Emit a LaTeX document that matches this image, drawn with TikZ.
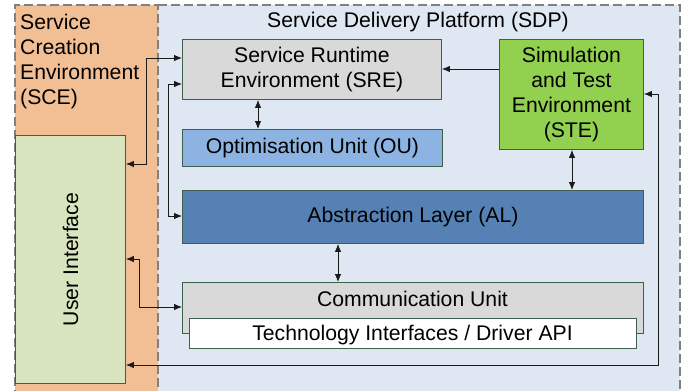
\documentclass[tikz,border=0pt]{standalone}
\usepackage{fontspec}
\setmainfont{Liberation Sans}
\usetikzlibrary{arrows.meta}
\definecolor{sceor}{HTML}{F2BF95}
\definecolor{sdpbl}{HTML}{DFE8F2}
\definecolor{uigreen}{HTML}{D7E4BD}
\definecolor{sregray}{HTML}{D9D9D9}
\definecolor{oublue}{HTML}{8DB3E2}
\definecolor{stegreen}{HTML}{92D050}
\definecolor{alblue}{HTML}{5581B4}
\definecolor{boxline}{HTML}{3E5F4E}
\definecolor{dashgray}{HTML}{808080}
\definecolor{arrline}{HTML}{1A1A1A}
\tikzset{
  blk/.style={draw=boxline, line width=0.9pt, inner sep=0pt, align=center, anchor=north west},
  regionborder/.style={draw=dashgray, line width=1.1pt, dash pattern=on 9pt off 4pt},
  conn/.style={draw=arrline, line width=0.8pt, {Latex[length=8pt,width=6.5pt]}-{Latex[length=8pt,width=6.5pt]}},
  conn1/.style={draw=arrline, line width=0.8pt, -{Latex[length=8pt,width=6.5pt]}},
  lbl/.style={inner sep=0pt}
}
\begin{document}
\begin{tikzpicture}[x=1pt,y=-1pt,font=\fontsize{21.2}{25}\selectfont]
\useasboundingbox (0,0) rectangle (686,391);
\clip (0,0) rectangle (686,391);
\fill[white] (0,0) rectangle (686,391);
% regions
\fill[sceor] (15,5) rectangle (158,400);
\fill[sdpbl] (158,5) rectangle (680,400);
\draw[regionborder] (158,400) -- (158,5) -- (15,5) -- (15,400);
\draw[regionborder] (158,5) -- (680,5) -- (680,400);
\node[lbl, anchor=west, align=left] (scelbl) at (20,62) {Service\\Creation\\Environment\\(SCE)};
\node[lbl] (sdplbl) at (418,22) {Service Delivery Platform (SDP)};
% blocks
\node[blk, fill=uigreen, minimum width=110pt, minimum height=248pt] (ui) at (15,135) {};
\node[lbl, rotate=90] (uilbl) at (ui.center) {User Interface};
\node[blk, fill=sregray, minimum width=259pt, minimum height=60pt] (sre) at (182,39) {Service Runtime\\Environment (SRE)};
\node[blk, fill=oublue, minimum width=260pt, minimum height=37pt] (ou) at (182,129) {Optimisation Unit (OU)};
\node[blk, fill=stegreen, minimum width=144pt, minimum height=110pt] (ste) at (499,39) {Simulation\\and Test\\Environment\\(STE)};
\node[blk, fill=alblue, minimum width=461pt, minimum height=53pt] (al) at (182,190) {Abstraction Layer (AL)};
\node[blk, fill=sregray, minimum width=461pt, minimum height=51pt] (comm) at (182,282) {};
\node[lbl] (commlbl) at (412.5,299) {Communication Unit};
\node[blk, fill=white, minimum width=447pt, minimum height=30pt] (tech) at (189,318) {};
\node[lbl] (techlbl) at (412.5,335) {Technology Interfaces / Driver API};
% connectors
\draw[conn] (ui.east |- 0,164) -- (146,164) -- (146,58) -- (sre.west |- 0,58);
\draw[conn] (al.west |- 0,216) -- (168,216) -- (168,84) -- (sre.west |- 0,84);
\draw[conn] (sre.south -| 258,0) -- (ou.north -| 258,0);
\draw[conn1] (ste.west |- 0,69) -- (sre.east |- 0,69);
\draw[conn] (ste.south -| 572,0) -- (al.north -| 572,0);
\draw[conn] (al.south -| 338,0) -- (comm.north -| 338,0);
\draw[conn] (ui.east |- 0,259) -- (139,259) -- (139,307) -- (comm.west |- 0,307);
\draw[conn] (ui.east |- 0,365) -- (658,365) -- (658,94) -- (ste.east |- 0,94);
\end{tikzpicture}
\end{document}
